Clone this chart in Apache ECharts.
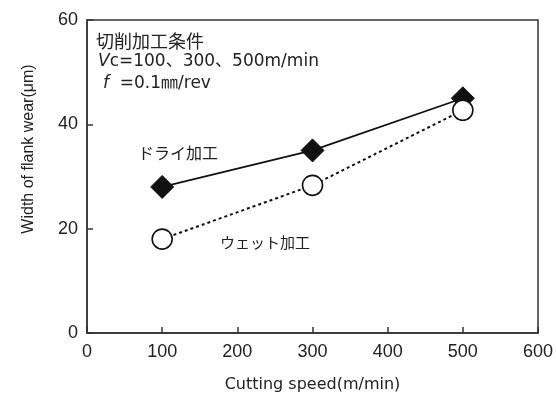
<!DOCTYPE html>
<html><head><meta charset="utf-8">
<script src="https://cdn.jsdelivr.net/npm/echarts@6/dist/echarts.min.js"></script>
<style>html,body{margin:0;padding:0;background:#fff}#c{width:556px;height:396px}</style>
</head><body><div id="c"></div>
<script>
const speeds = [100, 300, 500];
const dryWear = [28, 35, 45];
const wetWear = [18, 28.3, 42.7];
const xTicks = [0, 100, 200, 300, 400, 500, 600];
const yTicks = [0, 20, 40, 60];

const chart = echarts.init(document.getElementById('c'));
const txt = '#222';
const fontF = '"Liberation Sans", "Noto Sans CJK JP", Arial, sans-serif';
const wideF = '"DejaVu Sans", "Noto Sans CJK JP", sans-serif';
chart.setOption({
  animation: false,
  backgroundColor: '#fff',
  grid: {left: 87, right: 18, top: 20, bottom: 63, show: true, borderColor: '#333', borderWidth: 1.5, outerBoundsMode: 'none', containLabel: false},
  xAxis: {
    type: 'value', min: 0, max: 600, interval: 100,
    name: 'Cutting speed(m/min)', nameLocation: 'middle', nameGap: 44,
    nameTextStyle: {fontSize: 16, color: txt, fontFamily: wideF},
    axisLine: {lineStyle: {color: '#333', width: 1.5}},
    axisTick: {inside: true, length: 6, lineStyle: {color: '#333', width: 1.5}},
    axisLabel: {fontSize: 18, color: txt, fontFamily: fontF, margin: 10, formatter: v => xTicks.includes(v) ? String(v) : ''},
    splitLine: {show: false}
  },
  yAxis: {
    type: 'value', min: 0, max: 60, interval: 20,
    axisLine: {lineStyle: {color: '#333', width: 1.5}},
    axisTick: {inside: true, length: 6, lineStyle: {color: '#333', width: 1.5}},
    axisLabel: {fontSize: 18, color: txt, fontFamily: fontF, margin: 9, formatter: v => yTicks.includes(v) ? String(v) : ''},
    splitLine: {show: false}
  },
  series: [
    {
      name: 'ドライ加工', type: 'line', data: speeds.map((s, i) => [s, dryWear[i]]),
      symbol: 'diamond', symbolSize: 23,
      lineStyle: {color: '#111', width: 1.8},
      itemStyle: {color: '#111', borderColor: '#111'}, z: 3
    },
    {
      name: 'ウェット加工', type: 'line', data: speeds.map((s, i) => [s, wetWear[i]]),
      symbol: 'circle', symbolSize: 20,
      lineStyle: {color: '#111', width: 2, type: [3, 3]},
      itemStyle: {color: '#fff', borderColor: '#111', borderWidth: 1.6}, z: 4
    }
  ],
  graphic: [
    {type: 'text', x: 29, y: 149, rotation: Math.PI / 2, style: {text: 'Width of flank wear(μm)', font: '16px "Liberation Sans", "Noto Sans CJK JP"', fill: txt, align: 'center', verticalAlign: 'middle'}},
    {type: 'text', x: 96, y: 41, style: {text: '切削加工条件', font: '18px "Noto Sans CJK JP"', fill: txt, verticalAlign: 'middle'}},
    {type: 'text', x: 98, y: 62, style: {rich: {i: {fontStyle: 'italic', fontSize: 17, fontFamily: 'DejaVu Sans'}, n: {fontSize: 17, fontFamily: wideF}}, text: '{i|V}{n|c=100、300、500m/min}', fill: txt, verticalAlign: 'middle'}},
    {type: 'text', x: 103, y: 84, style: {rich: {i: {fontStyle: 'italic', fontSize: 17, fontFamily: 'DejaVu Sans'}, n: {fontSize: 17, fontFamily: wideF}}, text: '{i|f}{n|  =0.1㎜/rev}', fill: txt, verticalAlign: 'middle'}},
    {type: 'text', x: 138, y: 153, style: {text: 'ドライ加工', font: '16px "Noto Sans CJK JP"', fill: txt, verticalAlign: 'middle'}},
    {type: 'text', x: 220, y: 242, style: {text: 'ウェット加工', font: '15px "Noto Sans CJK JP"', fill: txt, verticalAlign: 'middle'}}
  ]
});
</script></body></html>
